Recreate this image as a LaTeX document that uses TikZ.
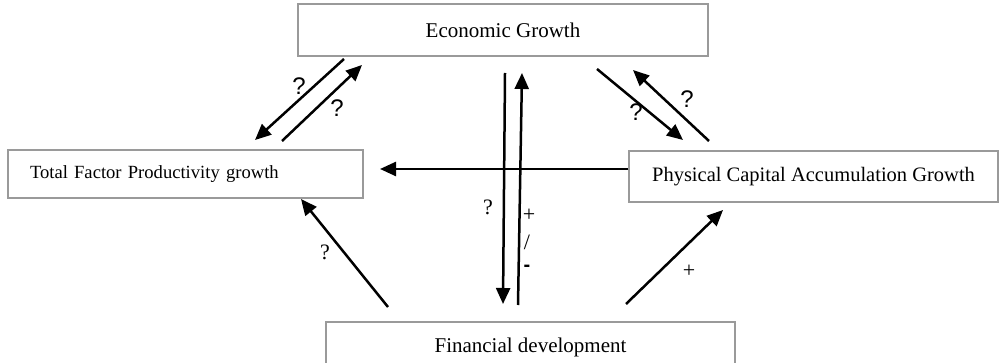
\documentclass[tikz,border=0pt]{standalone}
\usepackage{fontspec}
\setmainfont{Liberation Serif}
\newfontfamily\qfont{Liberation Sans}
\usepackage{xcolor}
\usetikzlibrary{arrows.meta,positioning,calc}
\definecolor{BoxGrey}{HTML}{9A9A9A}

\begin{document}
\begin{tikzpicture}[
  x=1pt,y=-1pt,
  every node/.style={align=center},
  factor/.style={draw=BoxGrey,line width=1.4pt,fill=white,inner sep=0pt,minimum height=#1},
  factor/.default=51pt,
  arr/.style={-{Triangle[length=16pt,width=14pt]},line width=2.5pt,black},
  sgn/.style={font=\fontsize{22}{24}\selectfont,inner sep=0pt},
  qmark/.style={font=\qfont\fontsize{24}{26}\selectfont,inner sep=0pt}
]
\clip (0,0) rectangle (1003,363);
\useasboundingbox (0,0) rectangle (1003,363);

% boxes
\node[factor=52pt,minimum width=410pt,font=\fontsize{21}{24}\selectfont] (eg) at (503,30) {Economic Growth};
\node[factor=48pt,text width=311pt,inner xsep=22pt,align=left,font=\fontsize{18.6}{22}\selectfont] (tfp) at (185.5,174) {Total Factor Productivity growth};
\node[factor,minimum width=369pt,font=\fontsize{20.5}{24}\selectfont] (pcag) at (813.5,176.5) {Physical Capital Accumulation Growth};
\node[factor=50pt,minimum width=409pt,font=\fontsize{21}{24}\selectfont] (fd) at (530.5,347) {Financial development};

% arrow ends
\coordinate (egA) at (344,59);   \coordinate (tfpA) at (255,140);
\coordinate (tfpB) at (282,141); \coordinate (egB) at (362,65);
\coordinate (egC) at (597,69);   \coordinate (pcagC) at (683,140);
\coordinate (pcagD) at (709,141); \coordinate (egD) at (633,70);
\coordinate (egE) at (505,73);   \coordinate (fdE) at (503,304);
\coordinate (fdF) at (518,305);  \coordinate (egF) at (522,73);
\coordinate (tfpG) at (380,169);
\coordinate (fdH) at (388,307);  \coordinate (tfpH) at (301,199);
\coordinate (fdI) at (626,304);  \coordinate (pcagI) at (723,210);

% connectors
\draw[arr] (egA) -- (tfpA);
\draw[arr] (tfpB) -- (egB);
\draw[arr] (egC) -- (pcagC);
\draw[arr] (pcagD) -- (egD);
\draw[arr] (egE) -- (fdE);
\draw[arr] (fdF) -- (egF);
\draw[arr] ([yshift=7.5pt]pcag.west) -- (tfpG);
\draw[arr] (fdH) -- (tfpH);
\draw[arr] (fdI) -- (pcagI);

% signs
\node[qmark] (q1) at (299,86) {?};
\node[qmark] (q2) at (337,108) {?};
\node[qmark] (q3) at (636,112) {?};
\node[qmark] (q4) at (687,99) {?};
\node[sgn] (q5) at (488,207) {?};
\node[sgn] (p1) at (529,215) {+};
\node[sgn] (s1) at (527,242) {/};
\node[qmark,font=\qfont\bfseries\fontsize{20}{22}\selectfont] (m1) at (527,268) {-};
\node[sgn] (q6) at (325,252) {?};
\node[sgn] (p2) at (689,271) {+};
\end{tikzpicture}
\end{document}
